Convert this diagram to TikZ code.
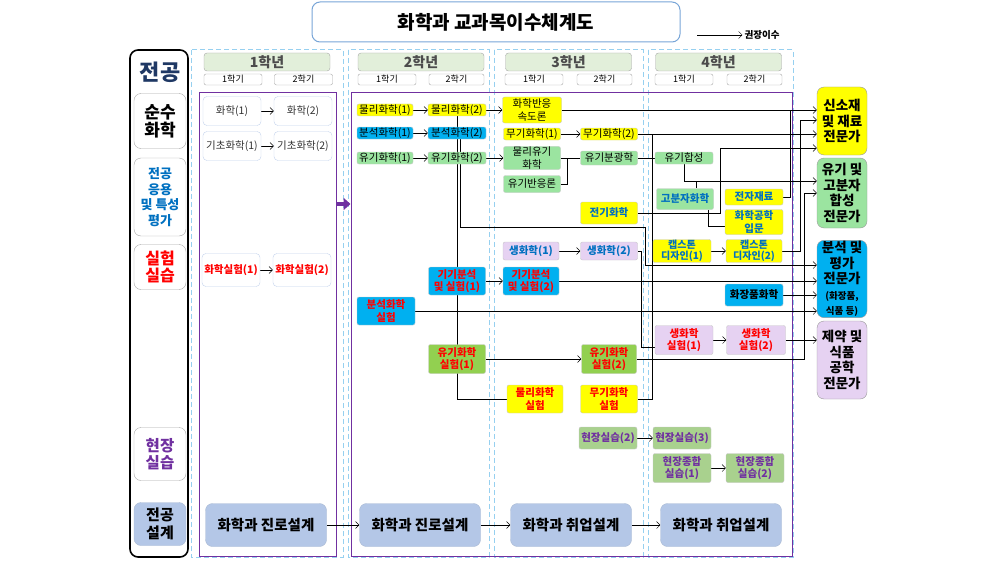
\documentclass[tikz,border=0pt]{standalone}
\usepackage{fontspec}
\setmainfont{Noto Sans CJK KR}
\usetikzlibrary{arrows.meta,backgrounds}

\definecolor{cyel}{RGB}{255,255,0}
\definecolor{cblu}{RGB}{0,176,240}
\definecolor{cgrn}{RGB}{155,228,160}
\definecolor{clab}{RGB}{146,208,80}
\definecolor{cfld}{RGB}{169,209,142}
\definecolor{clav}{RGB}{230,210,242}
\definecolor{chdr}{RGB}{226,239,218}
\definecolor{cdsg}{RGB}{180,199,231}
\definecolor{cprp}{RGB}{112,48,160}
\definecolor{ctxt}{RGB}{0,112,192}
\definecolor{cnavy}{RGB}{31,56,100}
\definecolor{cyr}{RGB}{150,208,240}
\definecolor{ctitle}{RGB}{120,165,215}

\begin{document}
\begin{tikzpicture}[
x=1pt, y=-1pt,
>={Straight Barb[length=3.5pt,width=7pt]},
course/.style={
draw=gray!45,
rounded corners=2pt,
align=center,
inner sep=0.5pt,
minimum width=57pt,
minimum height=12pt,
font=\fontsize{10.5}{12.5}\selectfont
},
yel/.style={course, fill=cyel},
blu/.style={course, fill=cblu},
grn/.style={course, fill=cgrn},
lab/.style={course, fill=clab},
lav/.style={course, fill=clav},
fld/.style={course, fill=cfld, text=cprp, font=\fontsize{10.5}{12.5}\selectfont\bfseries},
redtext/.style={text=red, font=\fontsize{10.5}{12.5}\selectfont\bfseries},
bluetext/.style={text=ctxt, font=\fontsize{10.5}{12.5}\selectfont\bfseries},
first/.style={
draw=cdsg!80,
fill=white,
rounded corners=4pt,
align=center,
inner sep=0.5pt,
minimum width=58pt,
minimum height=29pt,
text=black!80,
font=\fontsize{10.5}{12.5}\selectfont
},
side/.style={
draw=gray!70,
rounded corners=7pt,
align=center,
inner sep=1pt,
minimum width=52pt
},
yhead/.style={
draw=gray!70,
fill=chdr,
rounded corners=3pt,
inner sep=0pt,
minimum width=126pt,
minimum height=18pt,
text=black!70,
font=\fontsize{14}{14}\selectfont\bfseries
},
sem/.style={
draw=gray!70,
rounded corners=2pt,
inner sep=0pt,
minimum width=58pt,
minimum height=11pt,
font=\fontsize{9}{9}\selectfont
},
plan/.style={
draw=cdsg!80!gray,
fill=cdsg,
rounded corners=7pt,
minimum width=121pt,
minimum height=43pt,
font=\fontsize{14.5}{15}\selectfont\bfseries
},
career/.style={
draw=gray!80,
rounded corners=7pt,
align=center,
inner sep=1pt,
minimum width=50pt,
font=\fontsize{13.5}{15.5}\selectfont\bfseries
}
]

\useasboundingbox (0,0) rectangle (1008,567);

% title and legend
\node[draw=ctitle, line width=1pt, rounded corners=8pt, minimum width=368pt,
minimum height=40pt, font=\fontsize{19}{20}\selectfont\bfseries] (T) at (496,22)
{화학과 교과목이수체계도};

\coordinate (LGS) at (697,35);
\node[inner sep=2pt, font=\fontsize{9.5}{10}\selectfont\bfseries] (LG) at (762,35)
{권장이수};

% left column
\node[font=\fontsize{22}{22}\selectfont\bfseries, text=cnavy] (L0) at (160,72)
{전공};

\node[side, minimum height=55pt, font=\fontsize{17}{18}\selectfont\bfseries] (L1) at (160,121)
{순수\\화학};

\node[side, minimum height=78pt, text=ctxt, font=\fontsize{13}{15.5}\selectfont\bfseries] (L2) at (160,197)
{전공\\응용\\및 특성\\평가};

\node[side, minimum height=45pt, text=red, font=\fontsize{16}{17}\selectfont\bfseries] (L3) at (160,267)
{실험\\실습};

\node[side, minimum height=53pt, text=cprp, font=\fontsize{15.5}{17}\selectfont\bfseries] (L4) at (160,454)
{현장\\실습};

\node[side, minimum height=43pt, fill=cdsg, draw=cdsg!80!gray, font=\fontsize{15}{18}\selectfont\bfseries] (L5) at (160,524)
{전공\\설계};

% year headers
\node[yhead] (Y1) at (267,62) {1학년};
\node[yhead] (Y2) at (421,62) {2학년};
\node[yhead] (Y3) at (568.5,62) {3학년};
\node[yhead] (Y4) at (718.5,62) {4학년};

\node[sem] (S11) at (233,79.5) {1학기};
\node[sem] (S12) at (303.5,79.5) {2학기};
\node[sem] (S21) at (387,79.5) {1학기};
\node[sem, minimum width=55pt] (S22) at (456.5,79.5) {2학기};
\node[sem] (S31) at (534,79.5) {1학기};
\node[sem, minimum width=55pt] (S32) at (604.5,79.5) {2학기};
\node[sem] (S41) at (684,79.5) {1학기};
\node[sem, minimum width=55pt] (S42) at (754.5,79.5) {2학기};

% 1st year
\node[first] (H1) at (232,111)
{화학(1)};

\node[first] (H2) at (303,111)
{화학(2)};

\node[first] (K1) at (232,146)
{기초화학(1)};

\node[first] (K2) at (303,146)
{기초화학(2)};

\node[first, redtext, minimum height=33pt] (X1) at (231,270)
{화학실험(1)};

\node[first, redtext, minimum height=33pt] (X2) at (302,270)
{화학실험(2)};

% 2nd year
\node[yel, minimum width=56pt] (P1) at (385,110)
{물리화학(1)};

\node[yel, minimum width=58pt] (P2) at (457,110)
{물리화학(2)};

\node[blu, minimum width=56pt] (A1) at (385,133)
{분석화학(1)};

\node[blu, minimum width=58pt] (A2) at (457,133)
{분석화학(2)};

\node[grn, minimum width=56pt] (O1) at (385,158)
{유기화학(1)};

\node[grn, minimum width=58pt] (O2) at (457,158)
{유기화학(2)};

\node[blu, redtext, minimum height=28pt] (I1) at (457,281)
{기기분석\\및 실험(1)};

\node[blu, redtext, minimum width=58pt, minimum height=28pt] (AX) at (386,311)
{분석화학\\실험};

\node[lab, redtext, minimum height=29pt] (OX1) at (457,359)
{유기화학\\실험(1)};

% 3rd year
\node[yel, minimum width=59pt, minimum height=26pt] (RK) at (532,110)
{화학반응\\속도론};

\node[yel] (M1) at (532,134)
{무기화학(1)};

\node[yel] (M2) at (609,134)
{무기화학(2)};

\node[grn, minimum height=23pt] (PO) at (532,158)
{물리유기\\화학};

\node[grn, minimum height=17pt] (OR) at (532,184)
{유기반응론};

\node[grn, minimum height=14pt] (SP) at (609,158)
{유기분광학};

\node[yel, bluetext, minimum height=22pt] (EC) at (609,213)
{전기화학};

\node[lav, bluetext, minimum width=56pt, minimum height=18pt] (B1) at (531,251)
{생화학(1)};

\node[lav, bluetext, minimum height=18pt] (B2) at (609,251)
{생화학(2)};

\node[blu, redtext, minimum width=56pt, minimum height=28pt] (I2) at (531,281)
{기기분석\\및 실험(2)};

\node[lab, redtext, minimum width=55pt, minimum height=29pt] (OX2) at (609,359)
{유기화학\\실험(2)};

\node[yel, redtext, minimum width=56pt, minimum height=28pt] (PX) at (535,399)
{물리화학\\실험};

\node[yel, redtext, minimum height=28pt] (MX) at (609,399)
{무기화학\\실험};

\node[fld, minimum width=58pt, minimum height=22pt] (F2) at (608,438)
{현장실습(2)};

% 4th year
\node[grn, minimum width=58pt] (SY) at (684,158)
{유기합성};

\node[grn, bluetext, minimum height=21pt] (PL) at (685,199)
{고분자화학};

\node[yel, bluetext, minimum width=58pt, minimum height=16pt] (EM) at (754,197)
{전자재료};

\node[yel, bluetext, minimum width=58pt, minimum height=25pt] (CE) at (754,222)
{화학공학\\입문};

\node[yel, bluetext, minimum width=58pt, minimum height=22pt, font=\fontsize{10}{11.5}\selectfont\bfseries] (C1) at (682,251)
{캡스톤\\디자인(1)};

\node[yel, bluetext, minimum width=56pt, minimum height=22pt, font=\fontsize{10}{11.5}\selectfont\bfseries] (C2) at (754,251)
{캡스톤\\디자인(2)};

\node[blu, minimum width=58pt, minimum height=22pt, font=\fontsize{10.5}{12.5}\selectfont\bfseries] (CO) at (754,295)
{화장품화학};

\node[lav, redtext, minimum width=58pt, minimum height=29pt] (BX1) at (684,340)
{생화학\\실험(1)};

\node[lav, redtext, minimum width=59pt, minimum height=29pt] (BX2) at (756,340)
{생화학\\실험(2)};

\node[fld, minimum width=58pt, minimum height=22pt] (F3) at (682,438)
{현장실습(3)};

\node[fld, minimum width=58pt, minimum height=29pt] (FC1) at (682,468)
{현장종합\\실습(1)};

\node[fld, minimum width=58pt, minimum height=29pt] (FC2) at (755,468)
{현장종합\\실습(2)};

% design courses
\node[plan] (D1) at (266,525) {화학과 진로설계};
\node[plan] (D2) at (420,525) {화학과 진로설계};
\node[plan] (D3) at (571,525) {화학과 취업설계};
\node[plan] (D4) at (721,525) {화학과 취업설계};

% careers
\node[career, fill=cyel, minimum height=68pt] (J1) at (842,121)
{신소재\\및 재료\\전문가};

\node[career, fill=cgrn, minimum height=70pt] (J2) at (842,193)
{유기 및\\고분자\\합성\\전문가};

\node[career, fill=cblu, minimum height=76pt] (J3) at (842,279)
{분석 및\\평가\\전문가\\{\fontsize{9.5}{10.5}\selectfont (화장품,}\\{\fontsize{9.5}{10.5}\selectfont 식품 등)}};

\node[career, fill=clav, minimum height=78pt] (J4) at (842,360)
{제약 및\\식품\\공학\\전문가};

\begin{scope}[on background layer, thick]
\draw[line width=1.6pt, rounded corners=8pt] (130,50) rectangle (188,557);
\draw[cyr, line width=1pt, dash pattern=on 5pt off 3pt] (191,50) rectangle (343,557);
\draw[cyr, line width=1pt, dash pattern=on 5pt off 3pt] (348,50) rectangle (489,557);
\draw[cyr, line width=1pt, dash pattern=on 5pt off 3pt] (494,50) rectangle (643,557);
\draw[cyr, line width=1pt, dash pattern=on 5pt off 3pt] (648,50) rectangle (793,557);

\node[draw=cprp, line width=1pt, minimum width=137pt, minimum height=463pt] (V1) at (267.5,324.5) {};
\node[draw=cprp, line width=1pt, minimum width=441pt, minimum height=463pt] (V2) at (571.5,324.5) {};
\draw[cprp, line width=4pt, -{Triangle[length=7pt,width=12pt]}] (V1.east |- 0,204) -- (V2.west |- 0,204);

\draw[->] (LGS) -- (LG.west);

\draw[->] (H1) -- (H2);
\draw[->] (K1) -- (K2);
\draw[->] (X1) -- (X2);

\draw[->] (P1) -- (P2);
\draw[->] (P2) -- (RK);
\draw[->] (A1) -- (A2);
\draw[->] (O1) -- (O2);
\draw[->] (O2) -- (PO);
\draw[->] (M1) -- (M2);
\draw[->] (RK) -- (RK -| J1.west);
\draw[->] (M2) -- (M2 -| J1.west);
\draw (MX.east) -| ([xshift=14pt]M2.east);
\draw (PO.east) -- (SP.west);
\draw (OR.east) -| ([xshift=6pt]PO.east);
\draw (SP) -- (SY);
\draw[->] (SY.south) |- ([yshift=12pt]J2.west);
\draw ([xshift=11pt]PL.north) -- ++(0,-7.5);
\draw ([xshift=23pt]PL.south) |- ([yshift=-4pt]CE.west);
\draw[->] (EC.east) -| ([xshift=-97pt,yshift=-27pt]J1.west) -- ([yshift=-27pt]J1.west);
\draw (EM.east) -| ([xshift=-27pt,yshift=11pt]J1.west);
\draw[->] (C1) -- (C2);
\draw[->] (C2.east) -| ([xshift=-17pt,yshift=1pt]J1.west) -- ([yshift=1pt]J1.west);
\draw[->] (OX1) -- (OX2);
\draw[->] (OX2.east) -| ([xshift=-13pt]J2.west) -- (J2.west);
\draw (P2.south) |- (PX.west);
\draw[->] ([xshift=3pt]A2.south) |- ([xshift=-172pt,yshift=52pt]J3.west) |- ([yshift=14pt]J3.west);
\draw[->] (B1) -- (B2);
\draw (B2.east) -| ([xshift=-14pt,yshift=-7pt]BX1.west) -- ([yshift=-7pt]BX1.west);
\draw[->] (BX1) -- (BX2);
\draw[->] (BX2) -- (BX2 -| J4.west);
\draw[->] (I1) -- (I2);
\draw[->] (I2) -- (I2 -| J3.west);
\draw[->] (CO) -- (CO -| J3.west);
\draw[->] (AX) -- (AX -| J3.west);
\draw[->] (F2) -- (F3);
\draw[->] (FC1) -- (FC2);

\draw[->] (D1) -- (D2);
\draw[->] (D2) -- (D3);
\draw[->] (D3) -- (D4);
\end{scope}

\end{tikzpicture}
\end{document}
